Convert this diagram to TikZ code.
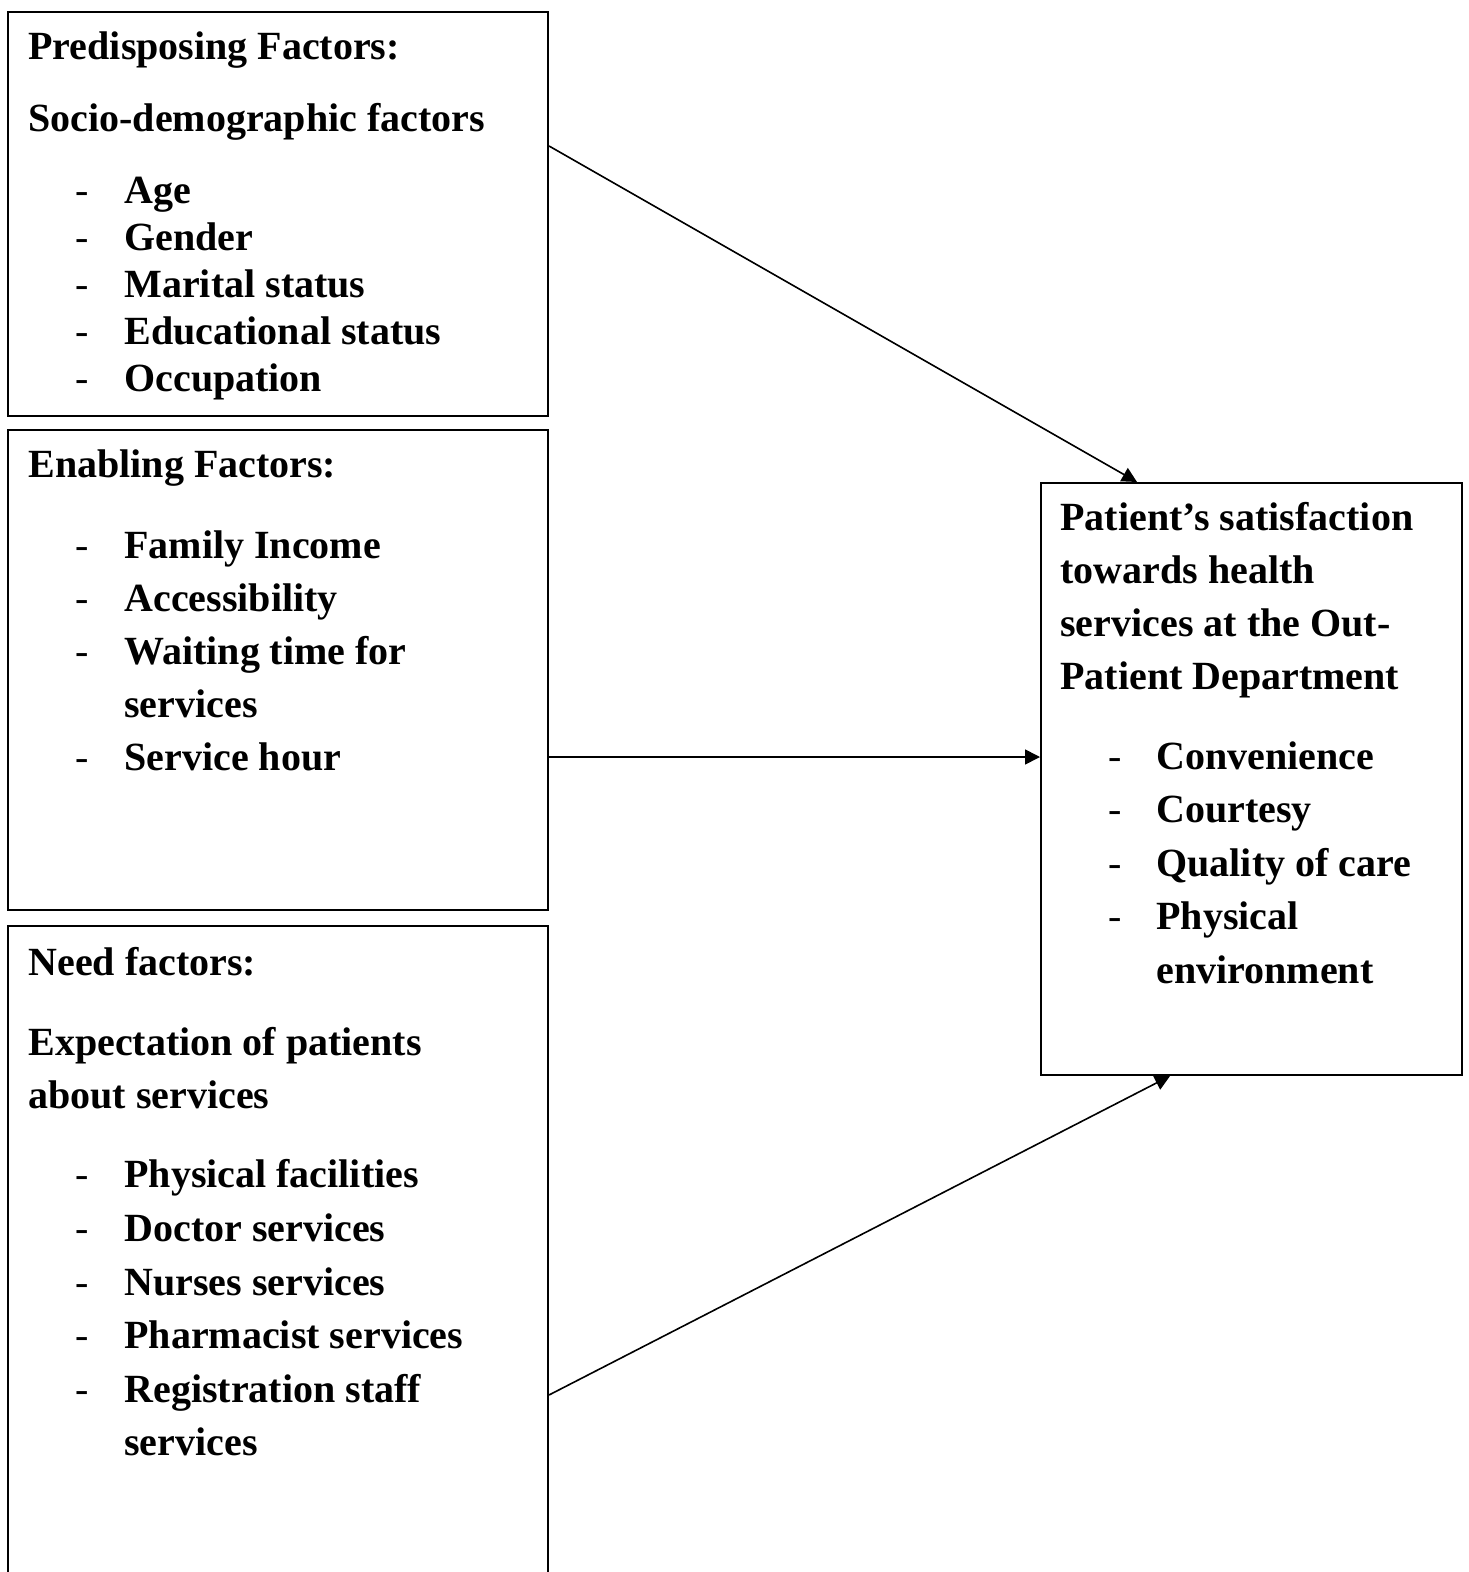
\documentclass[tikz,border=0pt]{standalone}
\usepackage{fontspec}
\setmainfont{Liberation Serif}
\usetikzlibrary{arrows.meta, positioning}

\tikzset{
  box/.style={draw, line width=1pt, minimum width=270pt, inner sep=0pt, anchor=north west},
  line/.style={anchor=base west, inner sep=0pt, font=\bfseries\fontsize{20}{24}\selectfont},
  dashitem/.style={anchor=base west, inner sep=0pt, font=\fontsize{20}{24}\selectfont},
  link/.style={-{Triangle[length=7.5pt,width=7.5pt]}, line width=0.8pt},
}

\begin{document}
\begin{tikzpicture}[x=0.5pt, y=-0.5pt]
  \useasboundingbox (0,0) rectangle (1468,1572);
  \clip (0,0) rectangle (1468,1572);
  % boxes
  \node[box, minimum height=202pt] (pre) at (7,11) {};
  \node[box, minimum height=240pt] (ena) at (7,429) {};
  \node[box, minimum height=350pt] (need) at (7,925) {};
  \node[box, minimum width=210.5pt, minimum height=296pt] (sat) at (1040,482) {};
  % predisposing factors
  \foreach \y/\t [count=\i] in {59.5/Predisposing Factors:, 131.5/Socio-demographic factors}
    \node[line] (pre-h\i) at (28,\y) {\t};
  \foreach \y/\t [count=\i] in {204/Age, 251/Gender, 298/Marital status,
      345/Educational status, 392/Occupation}{
    \node[dashitem] (pre-d\i) at (75,\y) {-};
    \node[line] (pre-i\i) at (124,\y) {\t};
  }
  % enabling factors
  \node[line] (ena-h) at (28,477) {Enabling Factors:};
  \foreach \y/\t [count=\i] in {558.5/Family Income, 611.5/Accessibility,
      664.5/Waiting time for, 717.5/services, 770.5/Service hour}
    \node[line] (ena-i\i) at (124,\y) {\t};
  \foreach \y [count=\i] in {558.5, 611.5, 664.5, 770.5}
    \node[dashitem] (ena-d\i) at (75,\y) {-};
  % need factors
  \foreach \y/\t [count=\i] in {975.5/Need factors:, 1055/Expectation of patients,
      1108/about services}
    \node[line] (need-h\i) at (28,\y) {\t};
  \foreach \y/\t [count=\i] in {1187.5/Physical facilities, 1241.5/Doctor services,
      1295.5/Nurses services, 1348.5/Pharmacist services,
      1402.5/Registration staff, 1455.5/services}
    \node[line] (need-i\i) at (124,\y) {\t};
  \foreach \y [count=\i] in {1187.5, 1241.5, 1295.5, 1348.5, 1402.5}
    \node[dashitem] (need-d\i) at (75,\y) {-};
  % satisfaction
  \foreach \y/\t [count=\i] in {530/Patient’s satisfaction, 583/towards health,
      636/services at the Out-, 689/Patient Department}
    \node[line] (sat-h\i) at (1060,\y) {\t};
  \foreach \y/\t [count=\i] in {769.5/Convenience, 822.5/Courtesy,
      876.5/Quality of care, 929.5/Physical, 983.5/environment}
    \node[line] (sat-i\i) at (1156,\y) {\t};
  \foreach \y [count=\i] in {769.5, 822.5, 876.5, 929.5}
    \node[dashitem] (sat-d\i) at (1108,\y) {-};
  % arrows
  \draw[link] ([yshift=-67.5pt]pre.north east) -- ([xshift=48.5pt]sat.north west);
  \draw[link] ([yshift=-164pt]ena.north east) -- ([yshift=-137.5pt]sat.north west);
  \draw[link] ([yshift=-235pt]need.north east) -- ([xshift=65pt]sat.south west);
\end{tikzpicture}
\end{document}
